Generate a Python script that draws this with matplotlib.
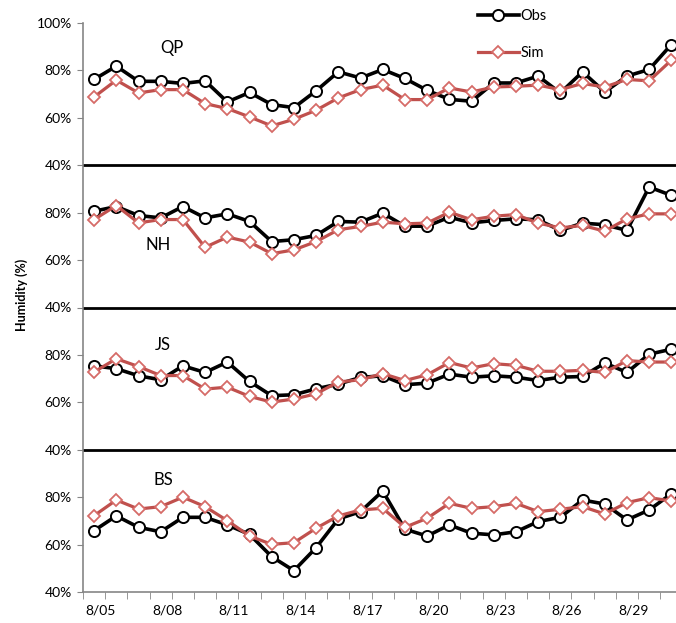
import numpy as np
import matplotlib.pyplot as plt

plt.rcParams['font.family'] = ['Lato', 'DejaVu Sans']

# days of August
days = np.arange(5, 32)

# relative humidity (%) per station
qp_obs = [76.2, 81.8, 75.4, 75.4, 74.5, 75.6, 66.7, 70.7, 65.6, 64.3, 71.4, 79.4, 76.8,
          80.4, 76.6, 71.6, 67.8, 67.0, 74.7, 74.7, 77.6, 70.5, 79.4, 70.9, 77.6, 80.4, 90.9]
qp_sim = [68.8, 75.9, 70.5, 71.9, 71.9, 66.0, 63.9, 60.4, 56.6, 59.4, 63.2, 68.4, 71.9,
          73.8, 67.7, 67.7, 72.6, 70.9, 73.0, 73.3, 73.8, 71.9, 74.5, 73.0, 76.2, 75.6, 84.3]
nh_obs = [80.6, 82.6, 78.8, 77.8, 82.6, 77.8, 79.5, 76.3, 67.8, 68.6, 70.4, 76.3, 76.0,
          79.8, 74.3, 74.3, 78.1, 75.7, 76.7, 77.4, 77.0, 72.5, 75.6, 74.9, 72.5, 90.8, 87.3]
nh_sim = [77.1, 83.0, 75.7, 77.1, 77.1, 65.4, 69.7, 67.6, 62.7, 64.3, 67.8, 72.8, 74.2,
          76.0, 75.3, 75.6, 80.2, 77.0, 78.5, 79.2, 75.6, 73.6, 74.6, 72.2, 77.4, 79.5, 79.5]
js_obs = [75.4, 74.2, 71.2, 69.5, 75.4, 72.6, 77.0, 68.8, 62.8, 63.2, 65.7, 67.7, 70.5,
          71.2, 67.4, 68.1, 71.9, 70.6, 71.2, 70.6, 69.2, 70.6, 70.9, 76.6, 72.6, 80.3, 82.4]
js_sim = [72.8, 78.4, 75.1, 71.3, 71.3, 65.6, 66.4, 62.5, 60.1, 61.4, 63.6, 68.6, 69.5,
          72.1, 69.2, 71.6, 76.8, 74.5, 76.3, 75.6, 73.1, 73.1, 73.5, 72.6, 77.6, 77.0, 77.0]
bs_obs = [65.9, 72.1, 67.3, 65.4, 71.5, 71.5, 68.3, 64.3, 54.9, 49.0, 58.7, 70.8, 73.9,
          82.6, 66.5, 63.6, 68.3, 64.8, 64.1, 65.4, 69.7, 71.5, 78.8, 77.1, 70.4, 74.6, 81.4]
bs_sim = [72.2, 78.8, 75.0, 76.0, 80.0, 76.0, 70.1, 63.6, 60.1, 60.8, 66.9, 72.1, 74.6,
          75.3, 67.3, 71.1, 77.4, 75.3, 76.0, 77.4, 73.9, 74.9, 76.0, 72.9, 77.7, 79.8, 78.4]

# bottom to top
stations = ['BS', 'JS', 'NH', 'QP']
obs = [bs_obs, js_obs, nh_obs, qp_obs]
sim = [bs_sim, js_sim, nh_sim, qp_sim]
label_pos = [(0.135, 0.197), (0.135, 0.434), (0.126, 0.610), (0.150, 0.956)]

y_min, y_max = 40, 100
span = y_max - y_min

fig = plt.figure(figsize=(6.76, 6.23), dpi=100)
ax = fig.add_axes([83/676, 31/623, 593/676, 569/623])

for k in range(4):
    off = k*span - y_min
    ax.plot(days, np.array(obs[k]) + off, color='black', lw=2.6, marker='o', ms=8,
            mfc='white', mec='black', mew=1.4, zorder=3, clip_on=False,
            label='Obs' if k == 0 else None)
    ax.plot(days, np.array(sim[k]) + off, color='#C0504D', lw=2.3, marker='D', ms=6,
            mfc='white', mec='#D66B68', mew=1.3, zorder=4, clip_on=False,
            label='Sim' if k == 0 else None)
    ax.text(*label_pos[k], stations[k], transform=ax.transAxes, fontsize=12,
            ha='center', va='center')
    if k > 0:
        ax.axhline(k*span, color='black', lw=2, zorder=2)

# y axis: repeated 40/60/80 % per panel, 100% on top
yt, yl = [], []
for k in range(4):
    for v in (40, 60, 80):
        yt.append(k*span + v - y_min)
        yl.append(f'{v}%')
yt.append(4*span)
yl.append('100%')
ax.set_yticks(yt)
ax.set_yticklabels(yl, fontsize=10)
ax.set_ylim(0, 4*span)

# x axis: tick marks between days, label every 3 days
ax.set_xlim(4.5, 31.21)
lab_days = days[::3]
ax.set_xticks(lab_days + 0.3)
ax.set_xticklabels([f'8/{d:02d}' for d in lab_days], fontsize=10)
ax.set_xticks(np.arange(4.5, 31.5, 1), minor=True)
ax.tick_params(axis='x', which='major', length=0, pad=9)
ax.tick_params(axis='x', which='minor', length=5, color='#868686')
ax.tick_params(axis='y', length=4, color='#868686', pad=4)

for s in ['top', 'right']:
    ax.spines[s].set_visible(False)
for s in ['left', 'bottom']:
    ax.spines[s].set_color('#868686')
    ax.spines[s].set_linewidth(1.2)

fig.text(22/676, 1 - 295/623, 'Humidity (%)', rotation=90, fontsize=9,
         fontweight='bold', ha='center', va='center')

fig.legend(loc='upper left', bbox_to_anchor=(478/676, 1 - 9/623), frameon=False,
           fontsize=10.5, handlelength=2.8, handletextpad=0.1, labelspacing=1.6,
           borderpad=0, borderaxespad=0)

fig.savefig('out.png', dpi=100)
